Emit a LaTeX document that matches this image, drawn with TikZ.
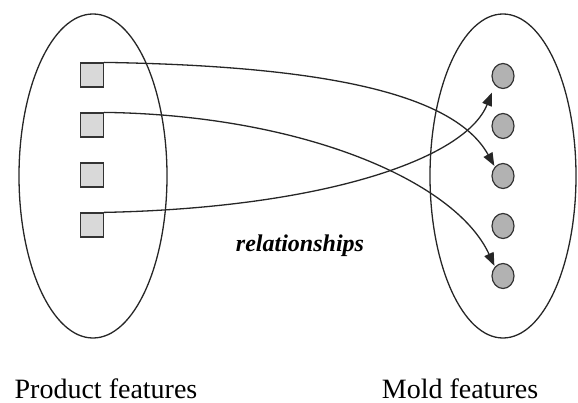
\documentclass[tikz,border=0pt]{standalone}
\usepackage{fontspec}
\setmainfont{Liberation Serif}
\usetikzlibrary{arrows.meta,shapes.geometric}
\begin{document}
\begin{tikzpicture}[x=1pt,y=-1pt,
  group/.style={draw=black!85, line width=1.3pt},
  pfeat/.style={draw=black!80, line width=1.2pt, fill=black!15, minimum width=23pt, minimum height=24pt, inner sep=0pt},
  mfeat/.style={ellipse, draw=black!80, line width=1.2pt, fill=black!30, minimum width=22pt, minimum height=25pt, inner sep=0pt},
  rel/.style={draw=black!85, line width=1.3pt, -{Triangle[length=13pt,width=10pt]}},
  caption/.style={font=\fontsize{28}{30}\selectfont, anchor=base, inner sep=0pt}
]
\useasboundingbox (0,0) rectangle (578,403);

% the two feature sets
\draw[group] (93,176) ellipse [x radius=74, y radius=162];
\draw[group] (503,176) ellipse [x radius=73, y radius=162];

% product features
\node[pfeat] (s1) at (92,75) {};
\node[pfeat] (s2) at (92,125) {};
\node[pfeat] (s3) at (92,175) {};
\node[pfeat] (s4) at (92,225) {};

% mold features
\node[mfeat] (c1) at (503,76) {};
\node[mfeat] (c2) at (503,126) {};
\node[mfeat] (c3) at (503,176) {};
\node[mfeat] (c4) at (503,226) {};
\node[mfeat] (c5) at (503,276) {};

% relationships between them
\draw[rel, shorten >=1pt] (s1.north east) .. controls (330,66) and (455,95) .. (c3.north west);
\draw[rel, shorten >=1pt] (s2.north east) .. controls (300,115) and (455,180) .. (c5.north west);
\draw[rel, shorten >=8pt] (s4.north east) .. controls (320,208) and (465,160) .. (c1.south west);

\node[font=\fontsize{24}{26}\selectfont\bfseries\itshape, anchor=base] (lbl) at (300,252) {relationships};

\node[caption] (pf) at (106,398) {Product features};
\node[caption] (mf) at (460,398) {Mold features};
\end{tikzpicture}
\end{document}
